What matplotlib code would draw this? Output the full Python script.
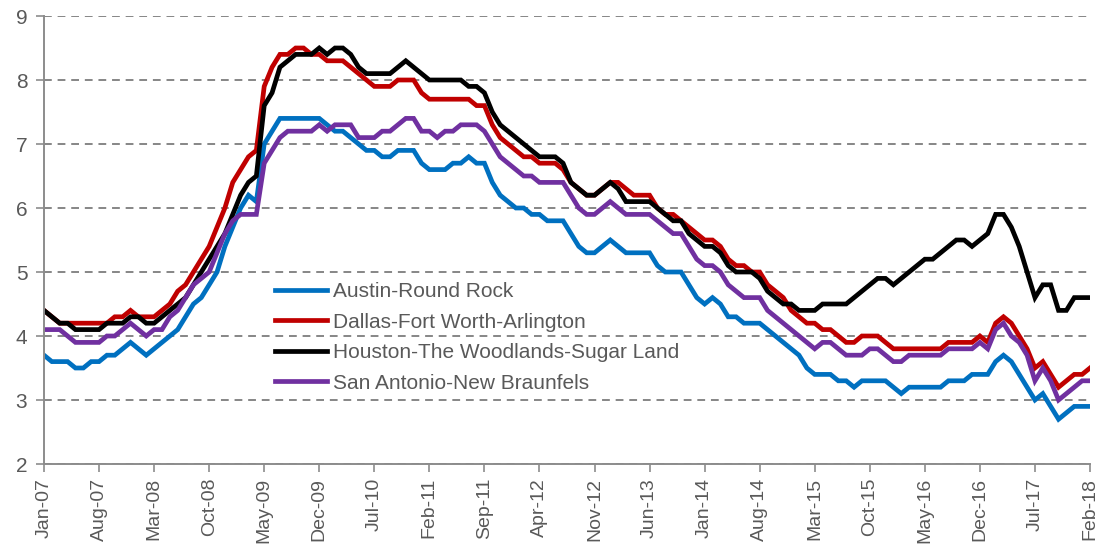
import matplotlib
matplotlib.use("Agg")
import matplotlib.pyplot as plt
import numpy as np

# monthly unemployment rate, Jan-07 .. Feb-18
austin = [
    3.7, 3.6, 3.6, 3.6, 3.5, 3.5, 3.6, 3.6, 3.7, 3.7,
    3.8, 3.9, 3.8, 3.7, 3.8, 3.9, 4.0, 4.1, 4.3, 4.5,
    4.6, 4.8, 5.0, 5.4, 5.7, 6.0, 6.2, 6.1, 7.0, 7.2,
    7.4, 7.4, 7.4, 7.4, 7.4, 7.4, 7.3, 7.2, 7.2, 7.1,
    7.0, 6.9, 6.9, 6.8, 6.8, 6.9, 6.9, 6.9, 6.7, 6.6,
    6.6, 6.6, 6.7, 6.7, 6.8, 6.7, 6.7, 6.4, 6.2, 6.1,
    6.0, 6.0, 5.9, 5.9, 5.8, 5.8, 5.8, 5.6, 5.4, 5.3,
    5.3, 5.4, 5.5, 5.4, 5.3, 5.3, 5.3, 5.3, 5.1, 5.0,
    5.0, 5.0, 4.8, 4.6, 4.5, 4.6, 4.5, 4.3, 4.3, 4.2,
    4.2, 4.2, 4.1, 4.0, 3.9, 3.8, 3.7, 3.5, 3.4, 3.4,
    3.4, 3.3, 3.3, 3.2, 3.3, 3.3, 3.3, 3.3, 3.2, 3.1,
    3.2, 3.2, 3.2, 3.2, 3.2, 3.3, 3.3, 3.3, 3.4, 3.4,
    3.4, 3.6, 3.7, 3.6, 3.4, 3.2, 3.0, 3.1, 2.9, 2.7,
    2.8, 2.9, 2.9, 2.9,
]
dallas = [
    4.4, 4.3, 4.2, 4.2, 4.2, 4.2, 4.2, 4.2, 4.2, 4.3,
    4.3, 4.4, 4.3, 4.3, 4.3, 4.4, 4.5, 4.7, 4.8, 5.0,
    5.2, 5.4, 5.7, 6.0, 6.4, 6.6, 6.8, 6.9, 7.9, 8.2,
    8.4, 8.4, 8.5, 8.5, 8.4, 8.4, 8.3, 8.3, 8.3, 8.2,
    8.1, 8.0, 7.9, 7.9, 7.9, 8.0, 8.0, 8.0, 7.8, 7.7,
    7.7, 7.7, 7.7, 7.7, 7.7, 7.6, 7.6, 7.3, 7.1, 7.0,
    6.9, 6.8, 6.8, 6.7, 6.7, 6.7, 6.6, 6.4, 6.3, 6.2,
    6.2, 6.3, 6.4, 6.4, 6.3, 6.2, 6.2, 6.2, 6.0, 5.9,
    5.9, 5.8, 5.7, 5.6, 5.5, 5.5, 5.4, 5.2, 5.1, 5.1,
    5.0, 5.0, 4.8, 4.7, 4.6, 4.4, 4.3, 4.2, 4.2, 4.1,
    4.1, 4.0, 3.9, 3.9, 4.0, 4.0, 4.0, 3.9, 3.8, 3.8,
    3.8, 3.8, 3.8, 3.8, 3.8, 3.9, 3.9, 3.9, 3.9, 4.0,
    3.9, 4.2, 4.3, 4.2, 4.0, 3.8, 3.5, 3.6, 3.4, 3.2,
    3.3, 3.4, 3.4, 3.5,
]
houston = [
    4.4, 4.3, 4.2, 4.2, 4.1, 4.1, 4.1, 4.1, 4.2, 4.2,
    4.2, 4.3, 4.3, 4.2, 4.2, 4.3, 4.4, 4.5, 4.6, 4.8,
    5.0, 5.2, 5.4, 5.6, 5.9, 6.2, 6.4, 6.5, 7.6, 7.8,
    8.2, 8.3, 8.4, 8.4, 8.4, 8.5, 8.4, 8.5, 8.5, 8.4,
    8.2, 8.1, 8.1, 8.1, 8.1, 8.2, 8.3, 8.2, 8.1, 8.0,
    8.0, 8.0, 8.0, 8.0, 7.9, 7.9, 7.8, 7.5, 7.3, 7.2,
    7.1, 7.0, 6.9, 6.8, 6.8, 6.8, 6.7, 6.4, 6.3, 6.2,
    6.2, 6.3, 6.4, 6.3, 6.1, 6.1, 6.1, 6.1, 6.0, 5.9,
    5.8, 5.8, 5.6, 5.5, 5.4, 5.4, 5.3, 5.1, 5.0, 5.0,
    5.0, 4.9, 4.7, 4.6, 4.5, 4.5, 4.4, 4.4, 4.4, 4.5,
    4.5, 4.5, 4.5, 4.6, 4.7, 4.8, 4.9, 4.9, 4.8, 4.9,
    5.0, 5.1, 5.2, 5.2, 5.3, 5.4, 5.5, 5.5, 5.4, 5.5,
    5.6, 5.9, 5.9, 5.7, 5.4, 5.0, 4.6, 4.8, 4.8, 4.4,
    4.4, 4.6, 4.6, 4.6,
]
san_antonio = [
    4.1, 4.1, 4.1, 4.0, 3.9, 3.9, 3.9, 3.9, 4.0, 4.0,
    4.1, 4.2, 4.1, 4.0, 4.1, 4.1, 4.3, 4.4, 4.6, 4.8,
    4.9, 5.0, 5.3, 5.6, 5.8, 5.9, 5.9, 5.9, 6.7, 6.9,
    7.1, 7.2, 7.2, 7.2, 7.2, 7.3, 7.2, 7.3, 7.3, 7.3,
    7.1, 7.1, 7.1, 7.2, 7.2, 7.3, 7.4, 7.4, 7.2, 7.2,
    7.1, 7.2, 7.2, 7.3, 7.3, 7.3, 7.2, 7.0, 6.8, 6.7,
    6.6, 6.5, 6.5, 6.4, 6.4, 6.4, 6.4, 6.2, 6.0, 5.9,
    5.9, 6.0, 6.1, 6.0, 5.9, 5.9, 5.9, 5.9, 5.8, 5.7,
    5.6, 5.6, 5.4, 5.2, 5.1, 5.1, 5.0, 4.8, 4.7, 4.6,
    4.6, 4.6, 4.4, 4.3, 4.2, 4.1, 4.0, 3.9, 3.8, 3.9,
    3.9, 3.8, 3.7, 3.7, 3.7, 3.8, 3.8, 3.7, 3.6, 3.6,
    3.7, 3.7, 3.7, 3.7, 3.7, 3.8, 3.8, 3.8, 3.8, 3.9,
    3.8, 4.1, 4.2, 4.0, 3.9, 3.7, 3.3, 3.5, 3.3, 3.0,
    3.1, 3.2, 3.3, 3.3,
]

series_names = ["Austin-Round Rock", "Dallas-Fort Worth-Arlington",
                "Houston-The Woodlands-Sugar Land", "San Antonio-New Braunfels"]
series_colors = ["#0070C0", "#C00000", "#000000", "#7030A0"]

tick_labels = ["Jan-07", "Aug-07", "Mar-08", "Oct-08", "May-09", "Dec-09", "Jul-10",
               "Feb-11", "Sep-11", "Apr-12", "Nov-12", "Jun-13", "Jan-14", "Aug-14",
               "Mar-15", "Oct-15", "May-16", "Dec-16", "Jul-17", "Feb-18"]
tick_step = 7  # months between labels

plt.rcParams["font.family"] = ["Liberation Sans", "DejaVu Sans"]
grey = "#595959"
axis_grey = "#8C8C8C"

fig = plt.figure(figsize=(11.02, 5.54), dpi=100)
ax = fig.add_axes([44 / 1102, 90 / 554, 1046 / 1102, 448 / 554])

months = np.arange(len(austin))
for vals, name, col in zip([austin, dallas, houston, san_antonio], series_names, series_colors):
    ax.plot(months, vals, color=col, lw=3.4, label=name, solid_joinstyle="miter")

ax.set_xlim(0, len(austin) - 1)
ax.set_ylim(2, 9)
ax.set_yticks(range(2, 10))
ax.set_xticks(months[::tick_step])
ax.set_xticklabels(tick_labels, rotation=90)

ax.grid(axis="y", color="#868686", ls=(0, (4, 3)), lw=1.4)
ax.set_axisbelow(True)
for side in ["top", "right"]:
    ax.spines[side].set_visible(False)
for side in ["left", "bottom"]:
    ax.spines[side].set_color(axis_grey)
    ax.spines[side].set_linewidth(1.4)
ax.tick_params(axis="both", colors=axis_grey, length=6, width=1.2, labelcolor=grey)
ax.tick_params(axis="y", labelsize=15, pad=6)
ax.tick_params(axis="x", labelsize=14, pad=4)

ax.legend(loc="upper left", bbox_to_anchor=(223 / 1046, (464 - 274) / 448),
          frameon=False, fontsize=15, handlelength=2.5, handletextpad=0.25,
          labelspacing=0.55, labelcolor=grey, borderaxespad=0)

fig.savefig("out.png", dpi=100)
plt.close(fig)
